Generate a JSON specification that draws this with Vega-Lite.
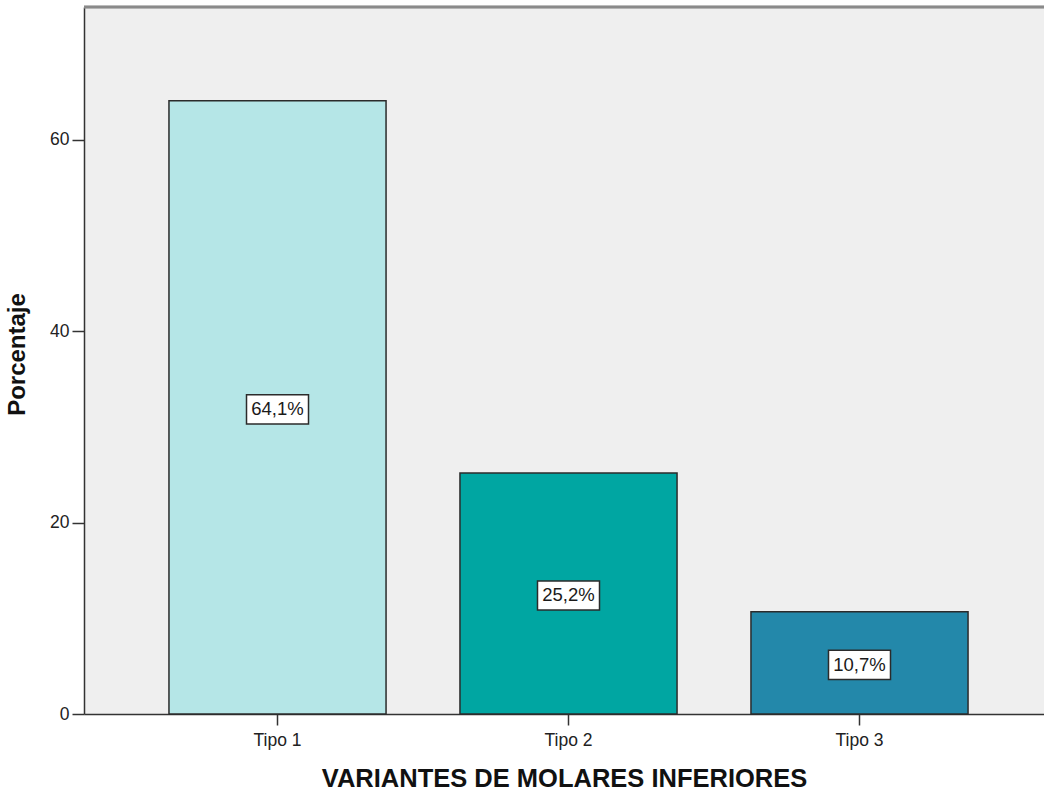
{
  "$schema": "https://vega.github.io/schema/vega-lite/v6.json",
  "width": 960,
  "height": 707,
  "autosize": {"type": "none"},
  "padding": {"left": 84, "top": 7, "right": 0, "bottom": 79},
  "background": "white",
  "config": {
    "view": {"stroke": null, "fill": "#EFEFEF"},
    "font": "Liberation Sans"
  },
  "data": {
    "values": [
      {"tipo": "Tipo 1", "pct": 64.1, "label": "64,1%"},
      {"tipo": "Tipo 2", "pct": 25.2, "label": "25,2%"},
      {"tipo": "Tipo 3", "pct": 10.7, "label": "10,7%"}
    ]
  },
  "layer": [
    {
      "mark": {"type": "bar", "stroke": "#2b2b2b", "strokeWidth": 1.5},
      "encoding": {
        "x": {
          "field": "tipo",
          "type": "nominal",
          "sort": null,
          "scale": {"paddingInner": 0.254, "paddingOuter": 0.2765, "align": 0.528},
          "axis": {
            "title": "VARIANTES DE MOLARES INFERIORES",
            "titleFontSize": 25.5,
            "titleFontWeight": "bold",
            "titleColor": "#111",
            "titlePadding": 18,
            "labelAngle": 0,
            "labelFontSize": 17.5,
            "labelColor": "#222",
            "labelPadding": 6,
            "tickSize": 11,
            "tickColor": "#333",
            "tickWidth": 1.5,
            "domainColor": "#333",
            "domainWidth": 1.5,
            "grid": false
          }
        },
        "y": {
          "field": "pct",
          "type": "quantitative",
          "scale": {"domain": [0, 73.9], "nice": false, "zero": true},
          "axis": {
            "title": "Porcentaje",
            "values": [0, 20, 40, 60],
            "titleFontSize": 24,
            "titleFontWeight": "bold",
            "titleColor": "#111",
            "titlePadding": 20,
            "titleY": 347,
            "labelFontSize": 17.5,
            "labelColor": "#222",
            "labelPadding": 3,
            "tickSize": 12,
            "tickColor": "#333",
            "tickWidth": 1.5,
            "domainColor": "#333",
            "domainWidth": 1.5,
            "grid": false
          }
        },
        "color": {
          "field": "tipo",
          "type": "nominal",
          "scale": {"domain": ["Tipo 1", "Tipo 2", "Tipo 3"], "range": ["#B5E6E7", "#00A6A2", "#2388AA"]},
          "legend": null
        }
      }
    },
    {
      "mark": {"type": "rule", "color": "#8a8a8a", "strokeWidth": 2.5},
      "encoding": {"y": {"datum": 73.9}}
    },
    {
      "transform": [{"calculate": "datum.pct / 2", "as": "mid"}],
      "mark": {
        "type": "point",
        "shape": "M-1,-0.47L1,-0.47L1,0.47L-1,0.47Z",
        "size": 3844,
        "filled": true,
        "fill": "white",
        "stroke": "#2b2b2b",
        "strokeWidth": 1.5,
        "opacity": 1,
        "yOffset": 2
      },
      "encoding": {
        "x": {"field": "tipo", "type": "nominal", "sort": null},
        "y": {"field": "mid", "type": "quantitative"}
      }
    },
    {
      "transform": [{"calculate": "datum.pct / 2", "as": "mid"}],
      "mark": {"type": "text", "fontSize": 18.5, "color": "#1a1a1a", "baseline": "middle", "align": "center", "yOffset": 2},
      "encoding": {
        "x": {"field": "tipo", "type": "nominal", "sort": null},
        "y": {"field": "mid", "type": "quantitative"},
        "text": {"field": "label"}
      }
    }
  ]
}
